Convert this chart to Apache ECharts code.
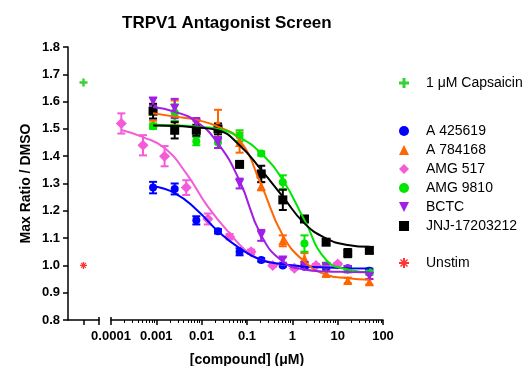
<!DOCTYPE html>
<html>
<head>
<meta charset="utf-8">
<script src="https://cdn.jsdelivr.net/npm/echarts@6/dist/echarts.min.js"></script>
<style>
  html, body { margin: 0; padding: 0; background: #fff; }
  #chart { width: 530px; height: 366px; }
</style>
</head>
<body>
<div id="chart"></div>
<script>
const FONT = '"Liberation Sans", Arial, sans-serif'

// concentrations in µM (3-fold dilution series)
const concFrom50 = [0.000847, 0.00254, 0.00762, 0.0229, 0.0686, 0.206, 0.617, 1.85, 5.56, 16.7, 50]
const concFrom10 = [0.000169, 0.000508, 0.00152, 0.00457, 0.0137, 0.0412, 0.123, 0.370, 1.11, 3.33, 10]
const xTickLabels = ['0.0001', '0.001', '0.01', '0.1', '1', '10', '100']

// controls (plotted on the short left axis segment)
const capsaicinValue = 1.67
const unstimValue = 1.0

// means, error (SEM) and fitted curve read at each concentration
const a425619 = [1.285, 1.28, 1.165, 1.125, 1.05, 1.02, 1.0, 0.995, 0.995, 0.99, 0.98]
const a425619Err = [0.021, 0.02, 0.015, 0.008, 0.013, 0.006, 0.005, 0.005, 0.01, 0.006, 0.008]
const a425619Fit = [1.29, 1.265, 1.205, 1.125, 1.063, 1.02, 1.004, 0.996, 0.992, 0.99, 0.989]

const a784168 = [1.52, 1.56, 1.51, 1.52, 1.45, 1.29, 1.09, 1.025, 0.97, 0.945, 0.94]
const a784168Err = [0.01, 0.044, 0.02, 0.05, 0.037, 0.015, 0.02, 0.02, 0.01, 0.01, 0.01]
const a784168Fit = [1.557, 1.545, 1.533, 1.508, 1.459, 1.295, 1.11, 1.014, 0.966, 0.953, 0.947]

const amg517 = [1.52, 1.44, 1.40, 1.285, 1.17, 1.105, 1.05, 1.0, 0.99, 1.0, 1.005]
const amg517Err = [0.037, 0.037, 0.037, 0.027, 0.02, 0.01, 0.008, 0.005, 0.005, 0.005, 0.005]
const amg517Fit = [1.496, 1.47, 1.43, 1.337, 1.215, 1.118, 1.04, 1.01, 1.0, 0.997, 0.996]

const amg9810 = [1.51, 1.56, 1.455, 1.45, 1.475, 1.41, 1.305, 1.08, 1.0, 0.985, 0.975]
const amg9810Err = [0.01, 0.03, 0.015, 0.02, 0.02, 0.008, 0.025, 0.03, 0.01, 0.01, 0.01]
const amg9810Fit = [1.515, 1.513, 1.508, 1.50, 1.469, 1.41, 1.313, 1.166, 1.02, 0.985, 0.975]

const bctc = [1.60, 1.575, 1.52, 1.45, 1.30, 1.11, 1.02, 1.0, 0.995, 0.985, 0.96]
const bctcErr = [0.015, 0.035, 0.02, 0.02, 0.018, 0.02, 0.01, 0.01, 0.01, 0.01, 0.01]
const bctcFit = [1.58, 1.563, 1.527, 1.447, 1.31, 1.11, 1.014, 0.985, 0.978, 0.976, 0.975]

const jnj17203212 = [1.565, 1.495, 1.495, 1.50, 1.37, 1.335, 1.24, 1.17, 1.085, 1.045, 1.055]
const jnj17203212Err = [0.027, 0.03, 0.02, 0.02, 0.01, 0.03, 0.037, 0.01, 0.01, 0.015, 0.01]
const jnj17203212Fit = [1.512, 1.511, 1.505, 1.495, 1.44, 1.35, 1.252, 1.154, 1.099, 1.075, 1.068]

const PLUS = 'path://M3.5,0h3v3.5h3.5v3h-3.5v3.5h-3v-3.5h-3.5v-3h3.5z'
const STAR = 'path://M4,0h2v10h-2zM0,4h10v2h-10zM1,2L2,1L9,8L8,9zM8,1L9,2L2,9L1,8z'
const TRI_DOWN = 'path://M0,0L10,0L5,10Z'

const errorBar = (color) => (params, api) => {
  const x = api.value(0)
  const y = api.value(1)
  const e = api.value(2)
  const lo = api.coord([x, y - e])
  const hi = api.coord([x, y + e])
  const w = 4
  const style = { stroke: color, lineWidth: 2 }
  return {
    type: 'group',
    children: [
      { type: 'line', shape: { x1: lo[0], y1: lo[1], x2: hi[0], y2: hi[1] }, style },
      { type: 'line', shape: { x1: lo[0] - w, y1: lo[1], x2: lo[0] + w, y2: lo[1] }, style },
      { type: 'line', shape: { x1: hi[0] - w, y1: hi[1], x2: hi[0] + w, y2: hi[1] }, style },
    ],
  }
}

function compound(name, conc, vals, errs, fit, color, symbol, size) {
  return [
    {
      name: name + ' fit', type: 'line', xAxisIndex: 2, yAxisIndex: 1,
      data: conc.map((c, i) => [c, fit[i]]),
      smooth: true, symbol: 'none', silent: true,
      lineStyle: { color, width: 2 },
    },
    {
      name: name + ' err', type: 'custom', xAxisIndex: 2, yAxisIndex: 1,
      data: conc.map((c, i) => [c, vals[i], errs[i]]),
      encode: { x: 0, y: 1 }, renderItem: errorBar(color), silent: true,
    },
    {
      name, type: 'scatter', xAxisIndex: 2, yAxisIndex: 1,
      data: conc.map((c, i) => [c, vals[i]]),
      symbol, symbolSize: size, itemStyle: { color, opacity: 1 },
    },
  ]
}

// minor ticks at 2..9 of every decade
const minorTicks = []
for (let d = -4; d < 2; d++) {
  for (let k = 2; k <= 9; k++) minorTicks.push(k * Math.pow(10, d))
}

const legendBase = {
  orient: 'vertical', left: 399, padding: 0, itemWidth: 10, itemHeight: 10, itemGap: 5,
  selectedMode: false,
  textStyle: { fontFamily: FONT, fontSize: 14, color: '#000', lineHeight: 14, padding: [0, 0, 0, 12] },
}

const chart = echarts.init(document.getElementById('chart'))
chart.setOption({
  animation: false,
  title: {
    text: 'TRPV1 Antagonist Screen', left: 117, top: 10,
    textStyle: { fontFamily: FONT, fontSize: 17, fontWeight: 'bold', color: '#000' },
  },
  legend: [
    { ...legendBase, top: 76, data: ['1 μM Capsaicin'] },
    { ...legendBase, top: 124, data: ['A 425619', 'A 784168', 'AMG 517', 'AMG 9810', 'BCTC', 'JNJ-17203212'] },
    { ...legendBase, top: 256, data: ['Unstim'] },
  ],
  grid: [
    { left: 68, right: 431, top: 47, bottom: 46, outerBoundsMode: 'none' },
    { left: 111, right: 147, top: 47, bottom: 46, outerBoundsMode: 'none' },
  ],
  xAxis: [
    {
      gridIndex: 0, type: 'value', position: 'bottom', min: 0, max: 2,
      axisLine: { lineStyle: { color: '#000', width: 1.5 } },
      axisTick: { show: true, customValues: [1, 2], length: 5, lineStyle: { color: '#000', width: 1.5 } },
      axisLabel: { show: false }, splitLine: { show: false },
    },
    {
      gridIndex: 0, type: 'value', position: 'bottom', offset: 0, min: 0, max: 2,
      axisLine: { show: false },
      axisTick: { show: true, inside: true, customValues: [2], length: 3, lineStyle: { color: '#000', width: 1.5 } },
      axisLabel: { show: false }, splitLine: { show: false },
    },
    {
      gridIndex: 1, type: 'log', position: 'bottom', logBase: 10, min: 0.0001, max: 100, splitNumber: 6,
      name: '[compound] (μM)', nameLocation: 'middle', nameGap: 33,
      nameTextStyle: { fontFamily: FONT, fontSize: 14, fontWeight: 'bold', color: '#000' },
      axisLine: { lineStyle: { color: '#000', width: 1.5 } },
      axisTick: { show: true, length: 5, lineStyle: { color: '#000', width: 1.5 } },
      axisLabel: {
        fontFamily: FONT, fontSize: 13, fontWeight: 'bold', color: '#000', margin: 10,
        formatter: (v) => xTickLabels[Math.round(Math.log10(v)) + 4],
      },
      splitLine: { show: false },
    },
    {
      gridIndex: 1, type: 'log', position: 'bottom', offset: 0, logBase: 10, min: 0.0001, max: 100,
      axisLine: { show: false },
      axisTick: { show: true, customValues: minorTicks, length: 3, lineStyle: { color: '#000', width: 1 } },
      axisLabel: { show: false }, splitLine: { show: false },
    },
    {
      gridIndex: 1, type: 'log', position: 'bottom', offset: 0, logBase: 10, min: 0.0001, max: 100,
      axisLine: { show: false },
      axisTick: { show: true, inside: true, customValues: [0.0001], length: 3, lineStyle: { color: '#000', width: 1.5 } },
      axisLabel: { show: false }, splitLine: { show: false },
    },
  ],
  yAxis: [
    {
      gridIndex: 0, type: 'value', min: 0.8, max: 1.8, interval: 0.1,
      name: 'Max Ratio / DMSO', nameLocation: 'middle', nameGap: 35,
      nameTextStyle: { fontFamily: FONT, fontSize: 14, fontWeight: 'bold', color: '#000' },
      axisLine: { show: true, lineStyle: { color: '#000', width: 1.5 } },
      axisTick: { show: true, length: 5, lineStyle: { color: '#000', width: 1.5 } },
      axisLabel: {
        fontFamily: FONT, fontSize: 13, fontWeight: 'bold', color: '#000', margin: 8,
        formatter: (v) => v.toFixed(1),
      },
      splitLine: { show: false },
    },
    { gridIndex: 1, type: 'value', min: 0.8, max: 1.8, show: false },
  ],
  series: [
    {
      name: '1 μM Capsaicin', type: 'scatter', xAxisIndex: 0, yAxisIndex: 0,
      data: [[1, capsaicinValue]], symbol: PLUS, symbolSize: 8, itemStyle: { color: '#00c800' },
    },
    {
      name: 'Unstim', type: 'scatter', xAxisIndex: 0, yAxisIndex: 0,
      data: [[1, unstimValue]], symbol: STAR, symbolSize: 7, itemStyle: { color: '#ff0000' },
    },
    ...compound('AMG 517', concFrom10, amg517, amg517Err, amg517Fit, '#f55bd8', 'diamond', 11),
    ...compound('A 425619', concFrom50, a425619, a425619Err, a425619Fit, '#0000ff', 'circle', 8),
    ...compound('A 784168', concFrom50, a784168, a784168Err, a784168Fit, '#ff6600', 'triangle', 9),
    ...compound('AMG 9810', concFrom50, amg9810, amg9810Err, amg9810Fit, '#00e600', 'circle', 8),
    ...compound('BCTC', concFrom50, bctc, bctcErr, bctcFit, '#a01ee6', TRI_DOWN, 9),
    ...compound('JNJ-17203212', concFrom50, jnj17203212, jnj17203212Err, jnj17203212Fit, '#000000', 'rect', 9),
  ],
})
</script>
</body>
</html>
